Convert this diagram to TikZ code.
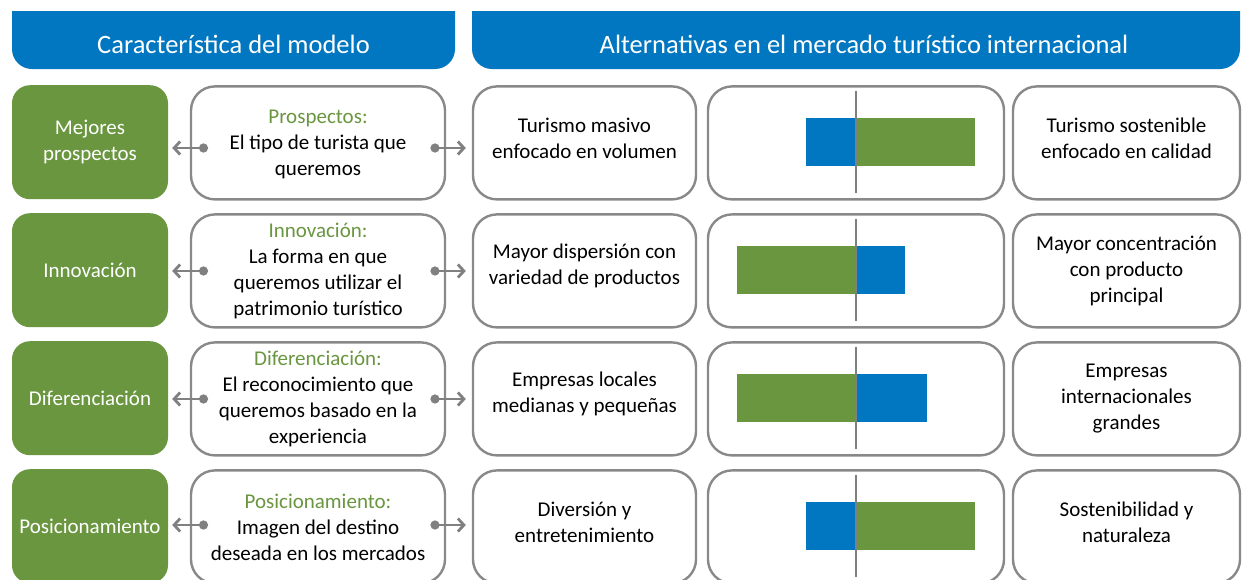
\documentclass[tikz,border=0pt]{standalone}
\usepackage{fontspec}
\setmainfont{Carlito}
\usetikzlibrary{arrows.meta}
\definecolor{hblue}{RGB}{0,119,192}
\definecolor{mgreen}{RGB}{106,150,64}
\definecolor{bgray}{RGB}{137,137,137}
\definecolor{agray}{RGB}{128,128,128}
\begin{document}
\begin{tikzpicture}[x=1pt,y=-1pt,
  txt/.style={font=\fontsize{21}{26}\selectfont, align=center, inner sep=0pt},
  htext/.style={font=\fontsize{26.5}{30}\selectfont, text=white, inner sep=0pt},
  gbox/.style={txt, fill=mgreen, text=white, rounded corners=18pt, minimum width=156pt, minimum height=114pt},
  wbox/.style={txt, draw=bgray, line width=2.4pt, fill=white, rounded corners=24pt, minimum height=113pt},
  conn/.style={draw=agray, line width=2.8pt, {Circle[length=9pt]}-{Straight Barb[length=6pt,width=13pt]}},
  midline/.style={draw=agray, line width=2pt},
  up/.style={yshift=5pt},
]
\useasboundingbox (0,0) rectangle (1243,579);
% headers
\begin{scope}
  \clip (0,11) rectangle (1243,579);
  \fill[hblue, rounded corners=20pt] (12,-30) rectangle (455,69);
  \fill[hblue, rounded corners=20pt] (472,-30) rectangle (1240,69);
\end{scope}
\node[htext] (h1) at (233.5,44) {Característica del modelo};
\node[htext] (h2) at (864,44) {Alternativas en el mercado turístico internacional};

% row boxes
\foreach \r/\T in {1/84,2/212,3/340,4/468}{
  \node[gbox, anchor=north] (g\r) at (90,\T+1) {};
  \node[wbox, minimum width=254pt, anchor=north] (b\r) at (318,\T+1.2) {};
  \node[wbox, minimum width=223pt, anchor=north] (l\r) at (584.5,\T+1.2) {};
  \node[wbox, minimum width=296pt, anchor=north] (c\r) at (856,\T+1.2) {};
  \node[wbox, minimum width=227pt, anchor=north] (r\r) at (1126.5,\T+1.2) {};
}

% texts
\node[txt, text=white] (tg1) at (g1) {Mejores\\prospectos};
\node[txt, text=white] (tg2) at (g2) {Innovación};
\node[txt, text=white] (tg3) at (g3) {Diferenciación};
\node[txt, text=white] (tg4) at (g4) {Posicionamiento};

\node[txt, yshift=-2pt] (tb1) at (b1) {{\color{mgreen}Prospectos:}\\El tipo de turista que\\queremos};
\node[txt] (tb2) at (b2) {{\color{mgreen}Innovación:}\\La forma en que\\queremos utilizar el\\patrimonio turístico};
\node[txt] (tb3) at (b3) {{\color{mgreen}Diferenciación:}\\El reconocimiento que\\queremos basado en la\\experiencia};
\node[txt] (tb4) at (b4) {{\color{mgreen}Posicionamiento:}\\Imagen del destino\\deseada en los mercados};

\node[txt, up] (tl1) at (l1) {Turismo masivo\\enfocado en volumen};
\node[txt, up] (tl2) at (l2) {Mayor dispersión con\\variedad de productos};
\node[txt, up] (tl3) at (l3) {Empresas locales\\medianas y pequeñas};
\node[txt, up] (tl4) at (l4) {Diversión y\\entretenimiento};

\node[txt, up] (tr1) at (r1) {Turismo sostenible\\enfocado en calidad};
\node[txt] (tr2) at (r2) {Mayor concentración\\con producto\\principal};
\node[txt] (tr3) at (r3) {Empresas\\internacionales\\grandes};
\node[txt, up] (tr4) at (r4) {Sostenibilidad y\\naturaleza};

% bars
\fill[hblue]  (806,118) rectangle (856,166);
\fill[mgreen] (856,118) rectangle (975,166);
\fill[mgreen] (737,246) rectangle (856,294);
\fill[hblue]  (856,246) rectangle (905,294);
\fill[mgreen] (737,374) rectangle (856,422);
\fill[hblue]  (856,374) rectangle (927,422);
\fill[hblue]  (806,502) rectangle (856,550);
\fill[mgreen] (856,502) rectangle (975,550);
\foreach \T in {84,212,340,468}{
  \draw[midline] (856,\T+7) -- (856,\T+109);
}

% connectors
\foreach \r/\y in {1/148,2/271,3/399,4/525}{
  \coordinate (dl\r) at (208,\y);
  \coordinate (dr\r) at (430.5,\y);
  \draw[conn] (dl\r) -- ([xshift=4pt]g\r.east |- dl\r);
  \draw[conn] (dr\r) -- ([xshift=-6pt]l\r.west |- dr\r);
}
\end{tikzpicture}
\end{document}
